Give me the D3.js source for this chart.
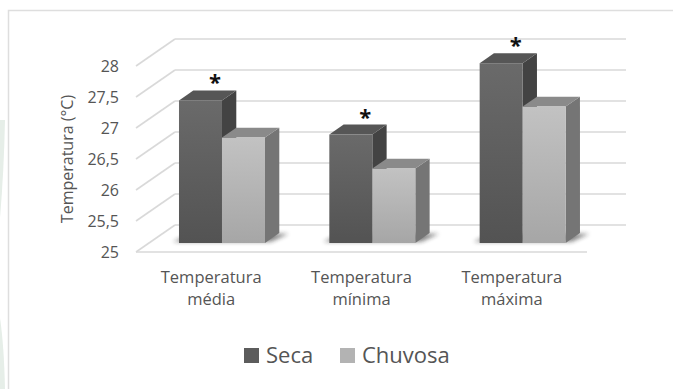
<!DOCTYPE html>
<html>
<head>
<meta charset="utf-8">
<script src="https://cdn.jsdelivr.net/npm/d3@7/dist/d3.min.js"></script>
<style>
  html, body { margin: 0; padding: 0; background: #ffffff; }
  svg { display: block; }
  text { font-family: "Open Sans", "Noto Sans", sans-serif; fill: #555555; }
</style>
</head>
<body>
<svg id="chart" width="673" height="389"></svg>
<script>
// Temperatures by season (dry = Seca, rainy = Chuvosa)
const categories = ["Temperatura média", "Temperatura mínima", "Temperatura máxima"];
const series = ["Seca", "Chuvosa"];
const seca = [27.3, 26.75, 27.9];
const chuvosa = [26.7, 26.2, 27.2];
const significant = [true, true, true];   // asterisk above the Seca bar
const yTicks = [25, 25.5, 26, 26.5, 27, 27.5, 28];
const yTitle = "Temperatura (°C)";

const values = { "Seca": seca, "Chuvosa": chuvosa };

const svg = d3.select("#chart");
const W = 673, H = 389;

// pseudo-3D geometry: full depth offset of the back wall
const DX = 39, DY = -27;
const F1 = 0.333, F2 = 0.70;   // bar front / back depth fractions

const y = d3.scaleLinear().domain([25, 28]).range([252, 66]);
const x = d3.scaleBand().domain(categories).range([136, 587]);
const xs = d3.scaleBand().domain(series).range([30, 116]);

const defs = svg.append("defs");

function grad(id, c0, c1) {
  const g = defs.append("linearGradient").attr("id", id)
    .attr("x1", 0).attr("y1", 0).attr("x2", 0).attr("y2", 1);
  g.append("stop").attr("offset", "0%").attr("stop-color", c0);
  g.append("stop").attr("offset", "100%").attr("stop-color", c1);
}
grad("g-seca", "#6a6a6a", "#535353");
grad("g-chuv", "#c2c2c2", "#a6a6a6");

const blur = defs.append("filter").attr("id", "soft")
  .attr("x", "-30%").attr("y", "-100%").attr("width", "160%").attr("height", "300%");
blur.append("feGaussianBlur").attr("stdDeviation", 2.2);

const style = {
  "Seca":    { front: "url(#g-seca)", side: "#434343", top: "#565656", legend: "#5c5c5c" },
  "Chuvosa": { front: "url(#g-chuv)", side: "#757575", top: "#8a8a8a", legend: "#b3b3b3" }
};

// faint page decoration at the left edge
svg.append("path")
  .attr("d", "M0,120 L5,120 Q4,170 0,218 Z")
  .attr("fill", "#e6eee8");
svg.append("path")
  .attr("d", "M0,318 Q4,345 5,389 L0,389 Z")
  .attr("fill", "#e6eee8");

// chart area border
svg.append("rect")
  .attr("x", 8.5).attr("y", 10.5).attr("width", W).attr("height", H)
  .attr("fill", "none").attr("stroke", "#dedede").attr("stroke-width", 1.5);

const grid = svg.append("g").attr("stroke", "#d9d9d9").attr("stroke-width", 1.6).attr("fill", "none");
const x0 = x.range()[0], x1 = x.range()[1];

// back-wall gridlines and the left-wall diagonals
yTicks.forEach(v => {
  grid.append("line")
    .attr("x1", x0 + DX).attr("y1", y(v) + DY)
    .attr("x2", x1 + DX).attr("y2", y(v) + DY);
  grid.append("line")
    .attr("x1", x0).attr("y1", y(v))
    .attr("x2", x0 + DX).attr("y2", y(v) + DY);
});
// front floor edge
grid.append("line")
  .attr("x1", x0).attr("y1", y(25))
  .attr("x2", x1).attr("y2", y(25));

// y tick labels
svg.append("g").selectAll("text").data(yTicks).join("text")
  .attr("x", 119).attr("y", d => y(d)).attr("dy", "0.35em")
  .attr("text-anchor", "end").attr("font-size", 16)
  .text(d => d3.format(".1~f")(d).replace(".", ","));

// y title
svg.append("text")
  .attr("transform", "translate(73,159) rotate(-90)")
  .attr("text-anchor", "middle").attr("font-size", 16)
  .text(yTitle);

const P = (px, v, f) => [px + f * DX, y(v) + f * DY];
const poly = pts => pts.map(p => p.join(",")).join(" ");

const bars = svg.append("g");

categories.forEach((cat, i) => {
  const gx = x(cat);
  const left = gx + xs("Seca");
  const right = gx + xs("Chuvosa") + xs.bandwidth();

  // soft floor shadow under the pair of bars
  bars.append("polygon")
    .attr("points", poly([
      P(left - 8, 25, F1 + 0.05), P(right + 4, 25, F1 + 0.05),
      P(right + 10, 25, F2 - 0.02), P(left - 2, 25, F2 - 0.02)
    ]))
    .attr("fill", "#222").attr("opacity", 0.55).attr("filter", "url(#soft)");

  series.forEach(s => {
    const v = values[s][i];
    const bx0 = gx + xs(s), bx1 = bx0 + xs.bandwidth();
    const st = style[s];
    // side face
    bars.append("polygon")
      .attr("points", poly([P(bx1, v, F1), P(bx1, v, F2), P(bx1, 25, F2), P(bx1, 25, F1)]))
      .attr("fill", st.side);
    // top face
    bars.append("polygon")
      .attr("points", poly([P(bx0, v, F1), P(bx1, v, F1), P(bx1, v, F2), P(bx0, v, F2)]))
      .attr("fill", st.top);
    // front face
    const ft = P(bx0, v, F1), fb = P(bx0, 25, F1);
    bars.append("rect")
      .attr("x", ft[0]).attr("y", ft[1])
      .attr("width", xs.bandwidth()).attr("height", fb[1] - ft[1])
      .attr("fill", st.front);
  });

  // significance asterisk over the Seca bar
  if (significant[i]) {
    const top = P(gx + xs("Seca") + xs.bandwidth(), seca[i], F1);
    svg.append("text")
      .attr("x", top[0] - 7).attr("y", top[1] - 10)
      .attr("text-anchor", "middle").attr("font-size", 22).attr("font-weight", "bold")
      .style("fill", "#111")
      .text("*");
  }
});

// category labels (two lines each)
const catG = svg.append("g");
categories.forEach(cat => {
  const cx = x(cat) + x.bandwidth() / 2;
  const words = cat.split(" ");
  const t = catG.append("text").attr("text-anchor", "middle").attr("font-size", 16.5);
  words.forEach((w, k) => {
    t.append("tspan").attr("x", cx).attr("y", 283 + k * 22).text(w);
  });
});

// legend
const legend = svg.append("g");
const legendX = [244, 340];
series.forEach((s, k) => {
  legend.append("rect")
    .attr("x", legendX[k]).attr("y", 348).attr("width", 15).attr("height", 15)
    .attr("fill", style[s].legend);
  legend.append("text")
    .attr("x", legendX[k] + 22).attr("y", 363)
    .attr("font-size", 22)
    .text(s);
});
</script>
</body>
</html>
